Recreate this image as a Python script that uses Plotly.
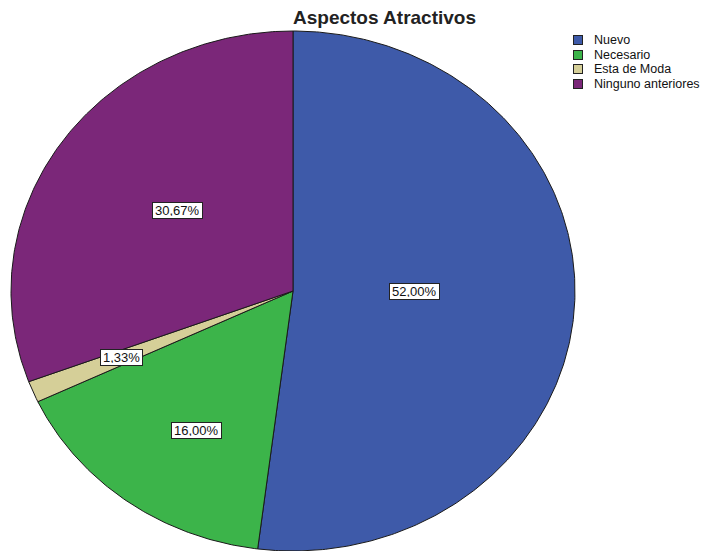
import numpy as np
import plotly.graph_objects as go

# Data
categories = ["Nuevo", "Necesario", "Esta de Moda", "Ninguno anteriores"]
percentages = [52.00, 16.00, 1.33, 30.67]
pct_labels = ["52,00%", "16,00%", "1,33%", "30,67%"]

# Styling
colors = ["#3E5AA9", "#3CB44A", "#D5CF98", "#7B2779"]
# horizontal / vertical fraction of the radius where each value label sits
label_kx = [0.43, 0.585, 0.66, 0.50]
label_ky = [0.03, 0.665, 0.655, 0.54]

W, H = 706, 551
CX, CY, RX, RY = 293, 291, 282, 260       # pie centre and radii in pixels

# axis ranges so one data unit = one radius, centre at (0, 0)
x0 = -CX / RX
x1 = (W - CX) / RX
y1 = CY / RY
y0 = -(H - CY) / RY

fig = go.Figure()

total = sum(percentages)
start = 0.0
label_pos = []
for cat, pct, col, kx, ky in zip(categories, percentages, colors, label_kx, label_ky):
    a0 = start / total * 2 * np.pi
    a1 = (start + pct) / total * 2 * np.pi
    t = np.linspace(a0, a1, max(4, int(pct * 6)))
    # clockwise from 12 o'clock
    xs = np.concatenate([[0], np.sin(t), [0]])
    ys = np.concatenate([[0], np.cos(t), [0]])
    fig.add_trace(go.Scatter(
        x=xs, y=ys, mode="lines", fill="toself", fillcolor=col,
        line=dict(color="#1a1a1a", width=1), name=cat,
        showlegend=False, hoverinfo="skip",
    ))
    am = (a0 + a1) / 2
    label_pos.append((kx * np.sin(am), ky * np.cos(am)))
    start += pct

# value labels in white boxes
for (lx, ly), txt in zip(label_pos, pct_labels):
    fig.add_annotation(
        x=lx, y=ly, xref="x", yref="y", text=txt, showarrow=False,
        font=dict(family="Liberation Sans, Arial", size=13, color="#111"),
        bgcolor="white", bordercolor="#222", borderwidth=1, borderpad=2,
        height=11, xanchor="center", yanchor="middle",
    )

# legend keys
for i, (cat, col) in enumerate(zip(categories, colors)):
    yy = 1 - (40 + 14.6 * i) / H
    fig.add_annotation(
        x=577.5 / W, y=yy, xref="paper", yref="paper", text="",
        showarrow=False, bgcolor=col, bordercolor="#222", borderwidth=1,
        borderpad=0, width=8, height=8, xanchor="center", yanchor="middle",
    )
    fig.add_annotation(
        x=592 / W, y=yy, xref="paper", yref="paper", text=cat,
        showarrow=False, xanchor="left", yanchor="middle",
        font=dict(family="Liberation Sans, Arial", size=12.5, color="#111"),
    )

# title
fig.add_annotation(
    x=384 / W, y=1 - 17 / H, xref="paper", yref="paper",
    text="<b>Aspectos Atractivos</b>", showarrow=False,
    xanchor="center", yanchor="middle",
    font=dict(family="Liberation Sans, Arial", size=19, color="#222"),
)

fig.update_xaxes(range=[x0, x1], visible=False, fixedrange=True)
fig.update_yaxes(range=[y0, y1], visible=False, fixedrange=True)
fig.update_layout(
    width=W, height=H,
    margin=dict(l=0, r=0, t=0, b=0),
    paper_bgcolor="white", plot_bgcolor="white",
    showlegend=False,
)

fig.write_html("out.html")
